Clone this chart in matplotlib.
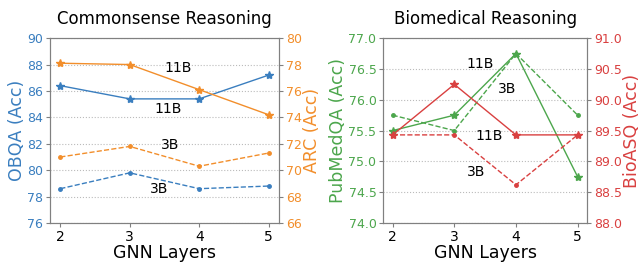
import matplotlib
matplotlib.use("Agg")
import matplotlib.pyplot as plt

layers = [2, 3, 4, 5]

# Commonsense reasoning
obqa_11b = [86.4, 85.4, 85.4, 87.2]
obqa_3b = [78.6, 79.8, 78.6, 78.8]
arc_11b = [78.1, 78.0, 76.1, 74.2]
arc_3b = [71.0, 71.8, 70.3, 71.3]

# Biomedical reasoning
pubmed_11b = [75.5, 75.75, 76.75, 74.75]
pubmed_3b = [75.75, 75.5, 76.75, 75.75]
bioasq_11b = [89.43, 90.25, 89.43, 89.43]
bioasq_3b = [89.43, 89.43, 88.62, 89.43]

BLUE, ORANGE, GREEN, RED = "#3a7ebf", "#f28e2b", "#4ca64c", "#d94040"
SPINE = "#808080"
TICK_FS = 9
LABEL_FS = 12.5


def style_axes(ax, color):
    for s in ax.spines.values():
        s.set_color(SPINE)
    ax.tick_params(axis="y", colors=SPINE, labelcolor=color, labelsize=TICK_FS, length=3, pad=2)
    ax.tick_params(axis="x", colors=SPINE, labelcolor="black", labelsize=10, length=3, pad=2)


fig = plt.figure(figsize=(6.4, 2.63), dpi=100)

# ---- Left panel ----
ax1 = fig.add_axes([0.078, 0.152, 0.358, 0.703])
ax1.grid(True, axis="y", linestyle=":", color="#bbbbbb", linewidth=0.8)
ax1.plot(layers, obqa_11b, "-*", color=BLUE, markersize=6, linewidth=1)
ax1.plot(layers, obqa_3b, "--o", color=BLUE, markersize=2.5, linewidth=1)
ax1.set_ylim(76, 90)
ax1.set_yticks(range(76, 91, 2))
ax1.set_xticks(layers)
ax1.set_xlim(1.85, 5.15)
ax1.set_ylabel("OBQA (Acc)", color=BLUE, fontsize=LABEL_FS, labelpad=1)
ax1.set_xlabel("GNN Layers", fontsize=LABEL_FS, labelpad=0)
ax1.set_title("Commonsense Reasoning", fontsize=12, pad=10)
style_axes(ax1, BLUE)

ax1r = ax1.twinx()
ax1r.plot(layers, arc_11b, "-*", color=ORANGE, markersize=6, linewidth=1)
ax1r.plot(layers, arc_3b, "--o", color=ORANGE, markersize=2.5, linewidth=1)
ax1r.set_ylim(66, 80)
ax1r.set_yticks(range(66, 81, 2))
ax1r.set_ylabel("ARC (Acc)", color=ORANGE, fontsize=LABEL_FS, labelpad=1)
style_axes(ax1r, ORANGE)

ax1.text(3.69, 87.75, "11B", fontsize=10, ha="center", va="center")
ax1.text(3.55, 84.6, "11B", fontsize=10, ha="center", va="center")
ax1.text(3.58, 81.9, "3B", fontsize=10, ha="center", va="center")
ax1.text(3.43, 78.6, "3B", fontsize=10, ha="center", va="center")

# ---- Right panel ----
ax2 = fig.add_axes([0.599, 0.152, 0.318, 0.703])
ax2.grid(True, axis="y", linestyle=":", color="#bbbbbb", linewidth=0.8)
ax2.plot(layers, pubmed_3b, "--o", color=GREEN, markersize=2.5, linewidth=1)
ax2.plot(layers, pubmed_11b, "-*", color=GREEN, markersize=6, linewidth=1)
ax2.set_ylim(74, 77)
ax2.set_yticks([74.0, 74.5, 75.0, 75.5, 76.0, 76.5, 77.0])
ax2.set_yticklabels(["74.0", "74.5", "75.0", "75.5", "76.0", "76.5", "77.0"])
ax2.set_xticks(layers)
ax2.set_xlim(1.85, 5.15)
ax2.set_ylabel("PubMedQA (Acc)", color=GREEN, fontsize=LABEL_FS, labelpad=1)
ax2.set_xlabel("GNN Layers", fontsize=LABEL_FS, labelpad=0)
ax2.set_title("Biomedical Reasoning", fontsize=12, pad=10)
style_axes(ax2, GREEN)

ax2r = ax2.twinx()
ax2r.plot(layers, bioasq_11b, "-*", color=RED, markersize=6, linewidth=1)
ax2r.plot(layers, bioasq_3b, "--o", color=RED, markersize=2.5, linewidth=1)
ax2r.set_ylim(88, 91)
ax2r.set_yticks([88.0, 88.5, 89.0, 89.5, 90.0, 90.5, 91.0])
ax2r.set_yticklabels(["88.0", "88.5", "89.0", "89.5", "90.0", "90.5", "91.0"])
ax2r.set_ylabel("BioASQ (Acc)", color=RED, fontsize=LABEL_FS, labelpad=1)
style_axes(ax2r, RED)

ax2.text(3.42, 76.58, "11B", fontsize=10, ha="center", va="center")
ax2.text(3.85, 76.17, "3B", fontsize=10, ha="center", va="center")
ax2.text(3.57, 75.42, "11B", fontsize=10, ha="center", va="center")
ax2.text(3.35, 74.83, "3B", fontsize=10, ha="center", va="center")

fig.savefig("out.png", dpi=100)
plt.close(fig)
